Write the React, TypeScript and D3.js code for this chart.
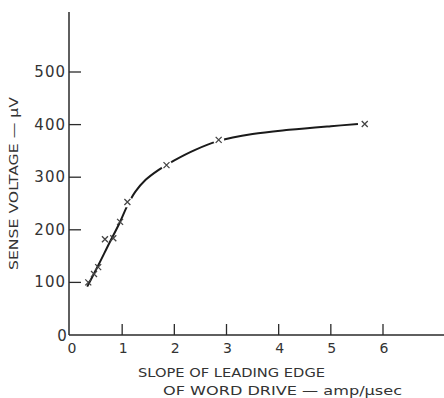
import React from "react";
import * as d3 from "d3";

const xTicks = [0, 1, 2, 3, 4, 5, 6];
const yTicks = [100, 200, 300, 400, 500];
const markX = [0.35, 0.46, 0.54, 0.67, 0.83, 0.96, 1.1, 1.85, 2.85, 5.65];
const markY = [100, 116, 129, 182, 184, 215, 253, 323, 371, 401];
const curveX = [0.33, 0.55, 0.75, 0.95, 1.1, 1.25, 1.45, 1.7, 2.0, 2.4, 2.85, 3.5, 4.2, 5.0, 5.52];
const curveY = [92, 134, 174, 213, 246, 272, 295, 314, 332, 352, 369, 382, 390, 397, 401];
const xTitle1 = "SLOPE OF LEADING EDGE";
const xTitle2 = "OF WORD DRIVE \u2014 amp/\u03bcsec";
const yTitle = "SENSE  VOLTAGE \u2014 \u03bcV";

export default function App() {
  const x = d3.scaleLinear().domain([0, 6]).range([70, 383]);
  const y = d3.scaleLinear().domain([0, 500]).range([335, 72]);
  const x0 = 69;
  const y0 = 335;
  const pts: [number, number][] = curveX.map((v, i) => [x(v), y(curveY[i])]);
  const line = d3.line().curve(d3.curveCatmullRom.alpha(0.5))(pts) || "";
  const font = "'DejaVu Sans', sans-serif";
  return (
    <svg width={444} height={398} style={{ position: "absolute", left: 0, top: 0, background: "#fff" }}>
      <rect width={444} height={398} fill="#fff" />
      {/* axes */}
      <line x1={x0} x2={x0} y1={12} y2={y0} stroke="#2a2a2a" strokeWidth={1.5} />
      <line x1={x0} x2={444} y1={y0} y2={y0} stroke="#2a2a2a" strokeWidth={1.5} />
      {yTicks.map((t) => (
        <g key={"y" + t}>
          <line x1={x0} x2={x0 + 12} y1={y(t)} y2={y(t)} stroke="#2a2a2a" strokeWidth={1.3} />
          <text x={66} y={y(t)} textAnchor="end" dominantBaseline="central" fontFamily={font} fontSize={15} fill="#333" letterSpacing={1}>
            {t}
          </text>
        </g>
      ))}
      <text x={62} y={336} textAnchor="middle" dominantBaseline="central" fontFamily={font} fontSize={15} fill="#333">0</text>
      {xTicks.map((t) => (
        <g key={"x" + t}>
          {t > 0 && <line x1={x(t)} x2={x(t)} y1={y0} y2={y0 - 11} stroke="#2a2a2a" strokeWidth={1.3} />}
          <text x={t === 0 ? 72 : x(t) + 1} y={348} textAnchor="middle" dominantBaseline="central" fontFamily={font} fontSize={14} fill="#333">
            {t}
          </text>
        </g>
      ))}
      {/* curve */}
      <path d={line} fill="none" stroke="#1a1a1a" strokeWidth={2} />
      {markX.map((v, i) =>
        i >= 6 ? <circle key={"c" + i} cx={x(v)} cy={y(markY[i])} r={5.5} fill="#fff" /> : null
      )}
      {markX.map((v, i) => {
        const cx = x(v);
        const cy = y(markY[i]);
        const s = 3;
        return (
          <path
            key={"m" + i}
            d={`M${cx - s},${cy - s}L${cx + s},${cy + s}M${cx - s},${cy + s}L${cx + s},${cy - s}`}
            stroke="#444"
            strokeWidth={1.3}
          />
        );
      })}
      {/* titles */}
      <text x={138} y={377} fontFamily={font} fontSize={13} fill="#333" textLength={187} lengthAdjust="spacingAndGlyphs">
        {xTitle1}
      </text>
      <text x={163} y={395} fontFamily={font} fontSize={13} fill="#333" textLength={239} lengthAdjust="spacingAndGlyphs">
        {xTitle2}
      </text>
      <text
        transform={`translate(18,270) rotate(-90)`}
        fontFamily={font}
        fontSize={13}
        fill="#333"
        textLength={173}
        lengthAdjust="spacingAndGlyphs"
      >
        {yTitle}
      </text>
    </svg>
  );
}
